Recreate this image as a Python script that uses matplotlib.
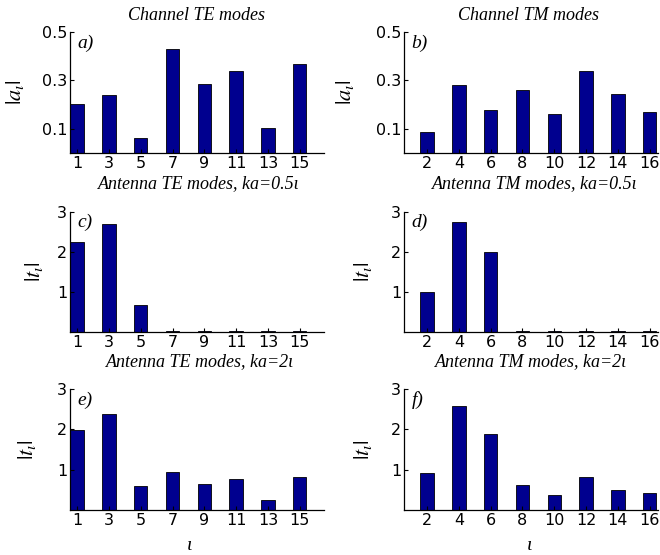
import numpy as np
import matplotlib
matplotlib.use('Agg')
import matplotlib.pyplot as plt

# mode indices
te_modes = [1, 3, 5, 7, 9, 11, 13, 15]
tm_modes = [2, 4, 6, 8, 10, 12, 14, 16]

# channel mode amplitudes |a|
a_te = [0.201, 0.238, 0.060, 0.429, 0.284, 0.338, 0.104, 0.367]
a_tm = [0.087, 0.279, 0.177, 0.259, 0.162, 0.340, 0.242, 0.169]

# antenna coefficients |t|, ka = 0.5*iota
t_te_05 = [2.26, 2.70, 0.68, 0.02, 0.02, 0.02, 0.02, 0.02]
t_tm_05 = [0.99, 2.76, 2.01, 0.02, 0.02, 0.02, 0.02, 0.02]

# antenna coefficients |t|, ka = 2*iota
t_te_2 = [1.99, 2.37, 0.60, 0.95, 0.64, 0.76, 0.24, 0.83]
t_tm_2 = [0.92, 2.57, 1.88, 0.62, 0.38, 0.82, 0.50, 0.41]

barcol = '#00008f'
serif = 'Liberation Serif'
plt.rcParams['font.family'] = ['DejaVu Sans']
plt.rcParams['mathtext.fontset'] = 'stix'

fig = plt.figure(figsize=(6.6, 5.55), dpi=100)

W, H = 660.0, 555.0
cols = [70, 404]
rows = [(32, 153), (212, 332), (389, 510)]
axw = 254.4

panels = [
    (0, 0, te_modes, a_te, 'a)', r'$|a_\iota|$', [0.1, 0.3, 0.5], ['0.1', '0.3', '0.5'], 0.5, -0.215),
    (0, 1, tm_modes, a_tm, 'b)', r'$|a_\iota|$', [0.1, 0.3, 0.5], ['0.1', '0.3', '0.5'], 0.5, -0.23),
    (1, 0, te_modes, t_te_05, 'c)', r'$|t_\iota|$', [1, 2, 3], ['1', '2', '3'], 3, -0.14),
    (1, 1, tm_modes, t_tm_05, 'd)', r'$|t_\iota|$', [1, 2, 3], ['1', '2', '3'], 3, -0.16),
    (2, 0, te_modes, t_te_2, 'e)', r'$|t_\iota|$', [1, 2, 3], ['1', '2', '3'], 3, -0.17),
    (2, 1, tm_modes, t_tm_2, 'f)', r'$|t_\iota|$', [1, 2, 3], ['1', '2', '3'], 3, -0.16),
]

for r, c, xs, ys, tag, ylab, yt, ytl, ymax, ylx in panels:
    top, bot = rows[r]
    ax = fig.add_axes([cols[c] / W, 1 - bot / H, axw / W, (bot - top) / H])
    ax.bar(xs, ys, width=0.84, color=barcol, edgecolor='black', linewidth=0.6)
    ax.set_xlim(0.55, 16.55)
    ax.set_ylim(0, ymax)
    ax.set_xticks(xs)
    ax.set_xticklabels([str(v) for v in xs])
    ax.set_yticks(yt)
    ax.set_yticklabels(ytl)
    ax.spines['top'].set_visible(False)
    ax.spines['right'].set_visible(False)
    for s in ['left', 'bottom']:
        ax.spines[s].set_linewidth(0.9)
    ax.tick_params(direction='in', length=3, width=0.8, labelsize=11.5, pad=2)
    ax.set_ylabel(ylab, fontsize=16)
    ax.yaxis.label.set_va('center')
    ax.yaxis.set_label_coords(ylx, 0.5)
    ax.text(0.03, 0.91, tag, transform=ax.transAxes, fontsize=14,
            family=serif, style='italic', va='center', ha='left')

def ftext(x, y, s, size=13):
    fig.text(x / W, 1 - y / H, s, ha='center', va='center', fontsize=size,
             family=serif, style='italic')

ftext(197, 15, 'Channel TE modes')
ftext(528, 15, 'Channel TM modes')
ftext(199, 184, 'Antenna TE modes, ka=0.5ι')
ftext(535, 184, 'Antenna TM modes, ka=0.5ι')
ftext(200, 362, 'Antenna TE modes, ka=2ι')
ftext(531, 362, 'Antenna TM modes, ka=2ι')
ftext(190, 545, 'ι', 14)
ftext(530, 545, 'ι', 14)

fig.savefig('out.png', dpi=100)
